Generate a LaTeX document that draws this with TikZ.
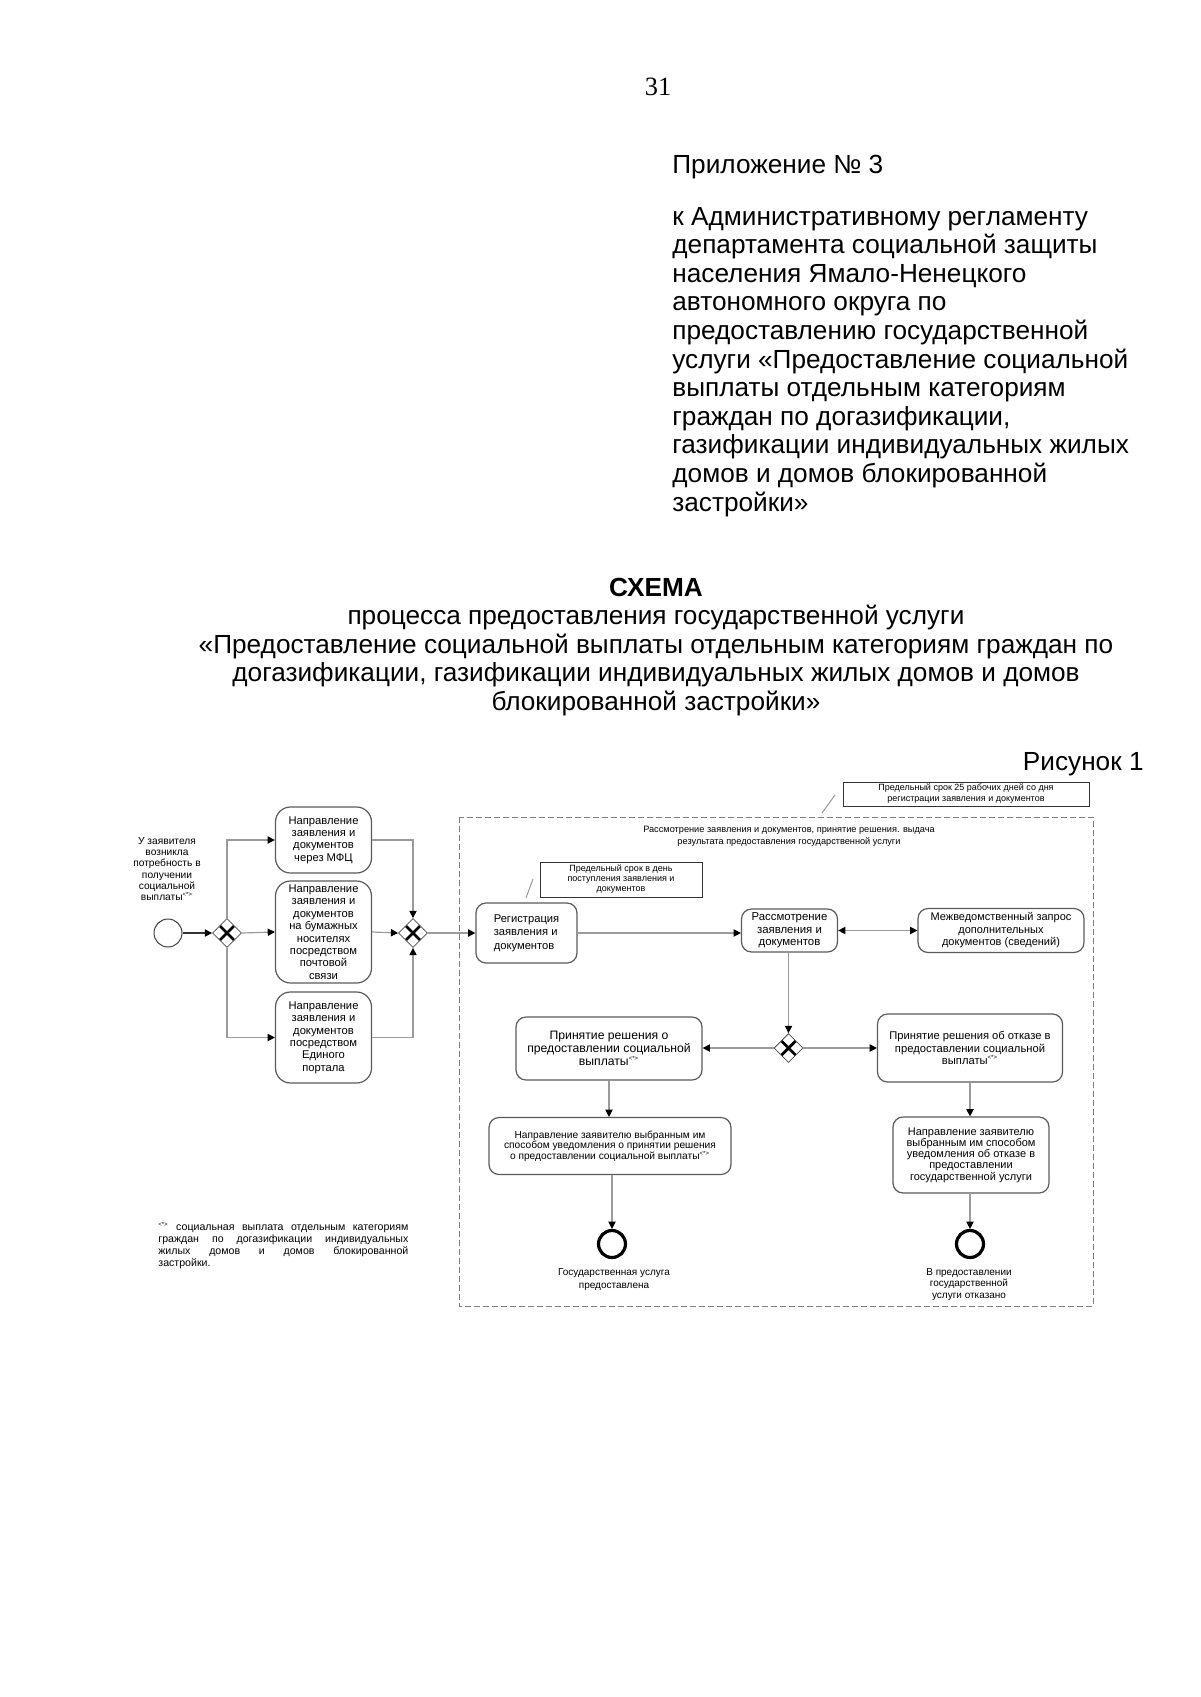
\documentclass[tikz,border=0pt]{standalone}
\usepackage{fontspec}
\setmainfont{Liberation Sans}
\newfontfamily\serifnum{Liberation Serif}
\usetikzlibrary{arrows.meta,shapes.geometric}
\definecolor{linegray}{RGB}{155,155,155}
\definecolor{boxgray}{RGB}{90,90,90}
\definecolor{dashgray}{RGB}{125,125,125}
\tikzset{
  fs/.style 2 args={font=\fontsize{#1}{#2}\selectfont},
  task/.style={draw=boxgray, line width=0.6pt, rounded corners=5pt, align=center, inner sep=0pt},
  bigtask/.style={task, rounded corners=7.5pt},
  notebox/.style={draw=black!80, line width=0.5pt, align=center, inner sep=0pt},
  gw/.style={diamond, draw=black!70, line width=0.4pt, minimum width=14.5pt, minimum height=14.5pt, inner sep=0pt, fill=white,
    path picture={\draw[line width=1.4pt,black]
      ([shift={(-3.5pt,-3.5pt)}]path picture bounding box.center) -- ([shift={(3.5pt,3.5pt)}]path picture bounding box.center)
      ([shift={(-3.5pt,3.5pt)}]path picture bounding box.center) -- ([shift={(3.5pt,-3.5pt)}]path picture bounding box.center);}},
  startev/.style={circle, draw=black!75, line width=0.5pt, minimum size=14pt, inner sep=0pt},
  endev/.style={circle, draw=black, line width=1.6pt, minimum size=13.5pt, inner sep=0pt},
  tip/.tip={Triangle[length=3.6pt,width=3.6pt,color=black]},
  flow/.style={draw=linegray, line width=0.6pt, -tip},
  assoc/.style={draw=linegray, line width=0.5pt},
  lbl/.style={align=center, inner sep=0pt},
  hdr/.style={font=\fontsize{13.1}{14.3}\selectfont, inner sep=0pt},
}
\newcommand{\fnmark}{\textsuperscript{\fontsize{3}{3}\selectfont <*>}}
\begin{document}
\begin{tikzpicture}[x=0.5pt,y=-0.5pt]
\useasboundingbox (0,0) rectangle (1200,1697);
% page number
\node[inner sep=0pt, anchor=base, font=\serifnum\fontsize{13.2}{14}\selectfont] (pnum) at (658,95) {31};
% header block
\node[hdr, anchor=base west] (app) at (672,173) {Приложение № 3};
\foreach \t [count=\i from 0] in {{к Административному регламенту},{департамента социальной защиты},{населения Ямало-Ненецкого},{автономного округа по},{предоставлению государственной},{услуги «Предоставление социальной},{выплаты отдельным категориям},{граждан по догазификации,},{газификации индивидуальных жилых},{домов и домов блокированной},{застройки»}}
  \node[hdr, anchor=base west] (h\i) at (672,225+28.6*\i) {\t};
% title
\node[hdr, anchor=base, font=\bfseries\fontsize{13.1}{14.3}\selectfont] (t0) at (656,596) {СХЕМА};
\foreach \t [count=\i from 1] in {{процесса предоставления государственной услуги},{«Предоставление социальной выплаты отдельным категориям граждан по},{догазификации, газификации индивидуальных жилых домов и домов},{блокированной застройки»}}
  \node[hdr, anchor=base] (t\i) at (656,596+28.5*\i) {\t};
\node[hdr, anchor=base east] (fig) at (1144,770) {Рисунок 1};

% frame
\draw[dashgray, line width=0.5pt, dash pattern=on 3pt off 1.5pt] (459,817) rectangle (1093,1306);
\node[lbl, fs={4.6}{6}] (lframe) at (789,836) {Рассмотрение заявления и документов, принятие решения. выдача\\результата предоставления государственной услуги};

% start part
\node[startev] (start) at (168,933) {};
\node[lbl, fs={5.1}{5.6}] (lstart) at (167,869) {У заявителя\\возникла\\потребность в\\получении\\социальной\\выплаты\fnmark};
\node[gw] (gw1) at (227,933) {};
\node[bigtask, fs={5.6}{6.1}, minimum width=48pt, minimum height=33pt] (box1) at (323.5,840) {Направление\\заявления и\\документов\\через МФЦ};
\node[bigtask, fs={5.6}{6.2}, minimum width=48pt, minimum height=51pt] (box2) at (323.5,932) {Направление\\заявления и\\документов\\на бумажных\\носителях\\посредством\\почтовой\\связи};
\node[bigtask, fs={5.6}{6.2}, minimum width=48pt, minimum height=45.5pt] (box3) at (323.5,1037.5) {Направление\\заявления и\\документов\\посредством\\Единого\\портала};
\node[gw] (gw2) at (413,933) {};

% registration
\node[bigtask, rounded corners=5pt, align=left, fs={5.6}{6.7}, minimum width=50.5pt, minimum height=30pt] (reg) at (526.5,933) {Регистрация\\заявления и\\документов};
\node[notebox, fs={4.5}{5}, minimum width=81pt, minimum height=17.5pt] (note1) at (621,879.5) {Предельный срок в день\\поступления заявления и\\документов};
\coordinate (n1a) at (526,898);
\coordinate (n1b) at (533,879);
\draw[assoc] (n1a) -- (n1b);

% review
\node[task, fs={5.7}{6.2}, minimum width=48pt, minimum height=21.5pt] (ras) at (789.5,930.5) {Рассмотрение\\заявления и\\документов};
\node[task, fs={5.5}{6.25}, minimum width=83pt, minimum height=22pt] (mezh) at (1001,930.5) {Межведомственный запрос\\дополнительных\\документов (сведений)};
\node[notebox, fs={4.5}{5.5}, minimum width=123pt, minimum height=12pt] (note2) at (966,794) {Предельный срок 25 рабочих дней со дня\\регистрации заявления и документов};
\coordinate (n2a) at (822,813);
\coordinate (n2b) at (835,795);
\draw[assoc] (n2a) -- (n2b);

% decision
\node[gw] (gw3) at (788.5,1048) {};
\node[task, fs={6.1}{6.5}, minimum width=93pt, minimum height=31.5pt] (prin1) at (609,1048.5) {Принятие решения о\\предоставлении социальной\\выплаты\fnmark};
\node[task, fs={5.6}{6.4}, minimum width=92.5pt, minimum height=34pt] (prin2) at (970,1048) {Принятие решения об отказе в\\предоставлении социальной\\выплаты\fnmark};
\node[task, fs={5.1}{5.2}, minimum width=121pt, minimum height=28.5pt] (nap1) at (610,1146) {Направление заявителю выбранным им\\способом уведомления о принятии решения\\о предоставлении социальной выплаты\fnmark};
\node[task, fs={5.5}{5.6}, minimum width=78pt, minimum height=38pt] (nap2) at (971,1155) {Направление заявителю\\выбранным им способом\\уведомления об отказе в\\предоставлении\\государственной услуги};
\node[endev] (end1) at (612,1244) {};
\node[endev] (end2) at (970,1244) {};
\node[lbl, fs={5}{6.5}] (lend1) at (614,1280) {Государственная услуга\\предоставлена};
\node[lbl, fs={5}{5.6}] (lend2) at (969,1284.5) {В предоставлении\\государственной\\услуги отказано};

% footnote
\node[inner sep=0pt, anchor=west, text width=125pt, align=justify, fs={5.3}{6.1}] (foot) at (158,1245.5) {\fnmark{} социальная выплата отдельным категориям\linebreak граждан по догазификации индивидуальных\linebreak жилых домов и домов блокированной\linebreak застройки.};

% flows
\draw[flow, draw=black!80] (start) -- (gw1);
\draw[flow] (gw1.north) |- (box1.west);
\draw[flow] (gw1.east) -- (box2.west);
\draw[flow] (gw1.south) |- (box3.west);
\draw[flow] (box1.east) -| (gw2.north);
\draw[flow] (box2.east) -- (gw2.west);
\draw[flow] (box3.east) -| (gw2.south);
\draw[flow] (gw2.east) -- (reg.west);
\draw[flow] (reg.east) -- (reg.east -| ras.west);
\draw[flow, tip-tip] (ras.east) -- (mezh.west);
\draw[flow] (ras.south -| gw3.north) -- (gw3.north);
\draw[flow] (gw3.west) -- (prin1.east |- gw3.west);
\draw[flow] (gw3.east) -- (prin2.west |- gw3.east);
\draw[flow] (prin1.south) -- (prin1.south |- nap1.north);
\draw[flow] (nap1.south -| end1.north) -- (end1.north);
\draw[flow] (prin2.south) -- (prin2.south |- nap2.north);
\draw[flow] (nap2.south -| end2.north) -- (end2.north);
\end{tikzpicture}
\end{document}
